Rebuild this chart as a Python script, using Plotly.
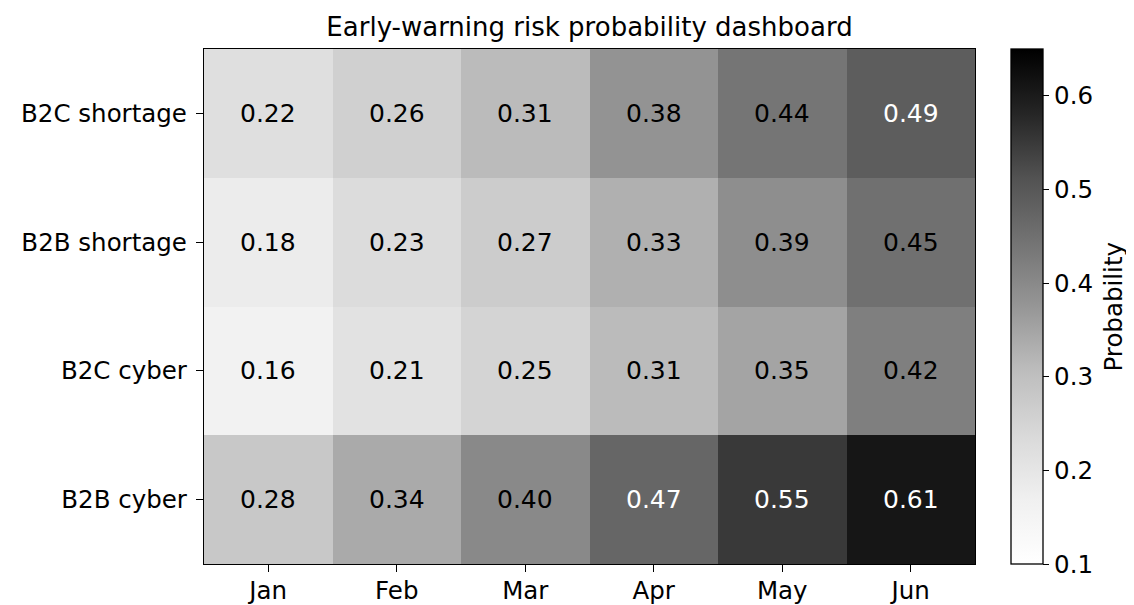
import plotly.graph_objects as go

months = ["Jan", "Feb", "Mar", "Apr", "May", "Jun"]
risks = ["B2C shortage", "B2B shortage", "B2C cyber", "B2B cyber"]
b2c_shortage = [0.22, 0.26, 0.31, 0.38, 0.44, 0.49]
b2b_shortage = [0.18, 0.23, 0.27, 0.33, 0.39, 0.45]
b2c_cyber = [0.16, 0.21, 0.25, 0.31, 0.35, 0.42]
b2b_cyber = [0.28, 0.34, 0.40, 0.47, 0.55, 0.61]
z = [b2c_shortage, b2b_shortage, b2c_cyber, b2b_cyber]

zmin, zmax = 0.1, 0.65
greys = ['#ffffff', '#f0f0f0', '#d9d9d9', '#bdbdbd', '#969696',
         '#737373', '#525252', '#252525', '#000000']
colorscale = [[i / (len(greys) - 1), c] for i, c in enumerate(greys)]

FONT = "DejaVu Sans"
TICK = 24.5

L, R, T, B = 196, 167, 41, 49
plot_w = 1134 - L - R

fig = go.Figure(go.Heatmap(
    z=z, x=months, y=risks, zmin=zmin, zmax=zmax, colorscale=colorscale,
    xgap=0, ygap=0,
    colorbar=dict(
        thickness=32, len=1, lenmode="fraction", y=0.5, yanchor="middle",
        x=(1011 - 204) / plot_w, xanchor="left", xpad=0, ypad=0,
        outlinewidth=1.3, outlinecolor="black",
        ticks="outside", ticklen=6, tickwidth=1.3, tickcolor="black",
        tickvals=[0.1, 0.2, 0.3, 0.4, 0.5, 0.6], ticktext=["0.1", "0.2", "0.3", "0.4", "0.5", "0.6"],
        tickfont=dict(size=TICK, family=FONT, color="black"),
    ),
))

annotations = []
for i, row in enumerate(z):
    for j, v in enumerate(row):
        annotations.append(dict(
            x=months[j], y=risks[i], text=f"{v:.2f}", showarrow=False,
            font=dict(size=25, family=FONT, color="white" if v >= 0.46 else "black"),
        ))
annotations.append(dict(
    x=(1113 - 204) / plot_w, y=0.5, xref="paper", yref="paper", text="Probability",
    textangle=-90, showarrow=False, xanchor="center", yanchor="middle",
    font=dict(size=TICK, family=FONT, color="black"),
))

fig.update_layout(
    width=1134, height=605,
    margin=dict(l=L, r=R, t=T, b=B, autoexpand=False),
    paper_bgcolor="white", plot_bgcolor="white",
    font=dict(family=FONT, color="black"),
    title=dict(text="Early-warning risk probability dashboard", x=(L + L + plot_w) / 2 / 1134, xanchor="center",
               y=1 - 19 / 605, yanchor="middle", font=dict(size=26, family=FONT, color="black")),
    annotations=annotations,
    xaxis=dict(showline=True, linecolor="black", linewidth=1.3, mirror=True, automargin=False,
               ticks="outside", ticklen=7, tickwidth=1.3, tickcolor="black", ticklabelstandoff=-3,
               tickfont=dict(size=TICK, family=FONT, color="black"), showgrid=False, zeroline=False),
    yaxis=dict(showline=True, linecolor="black", linewidth=1.3, mirror=True, autorange="reversed", automargin=False,
               ticks="outside", ticklen=7, tickwidth=1.3, tickcolor="black", ticklabelstandoff=4,
               tickfont=dict(size=TICK, family=FONT, color="black"), showgrid=False, zeroline=False),
)

fig.write_html("out.html")
